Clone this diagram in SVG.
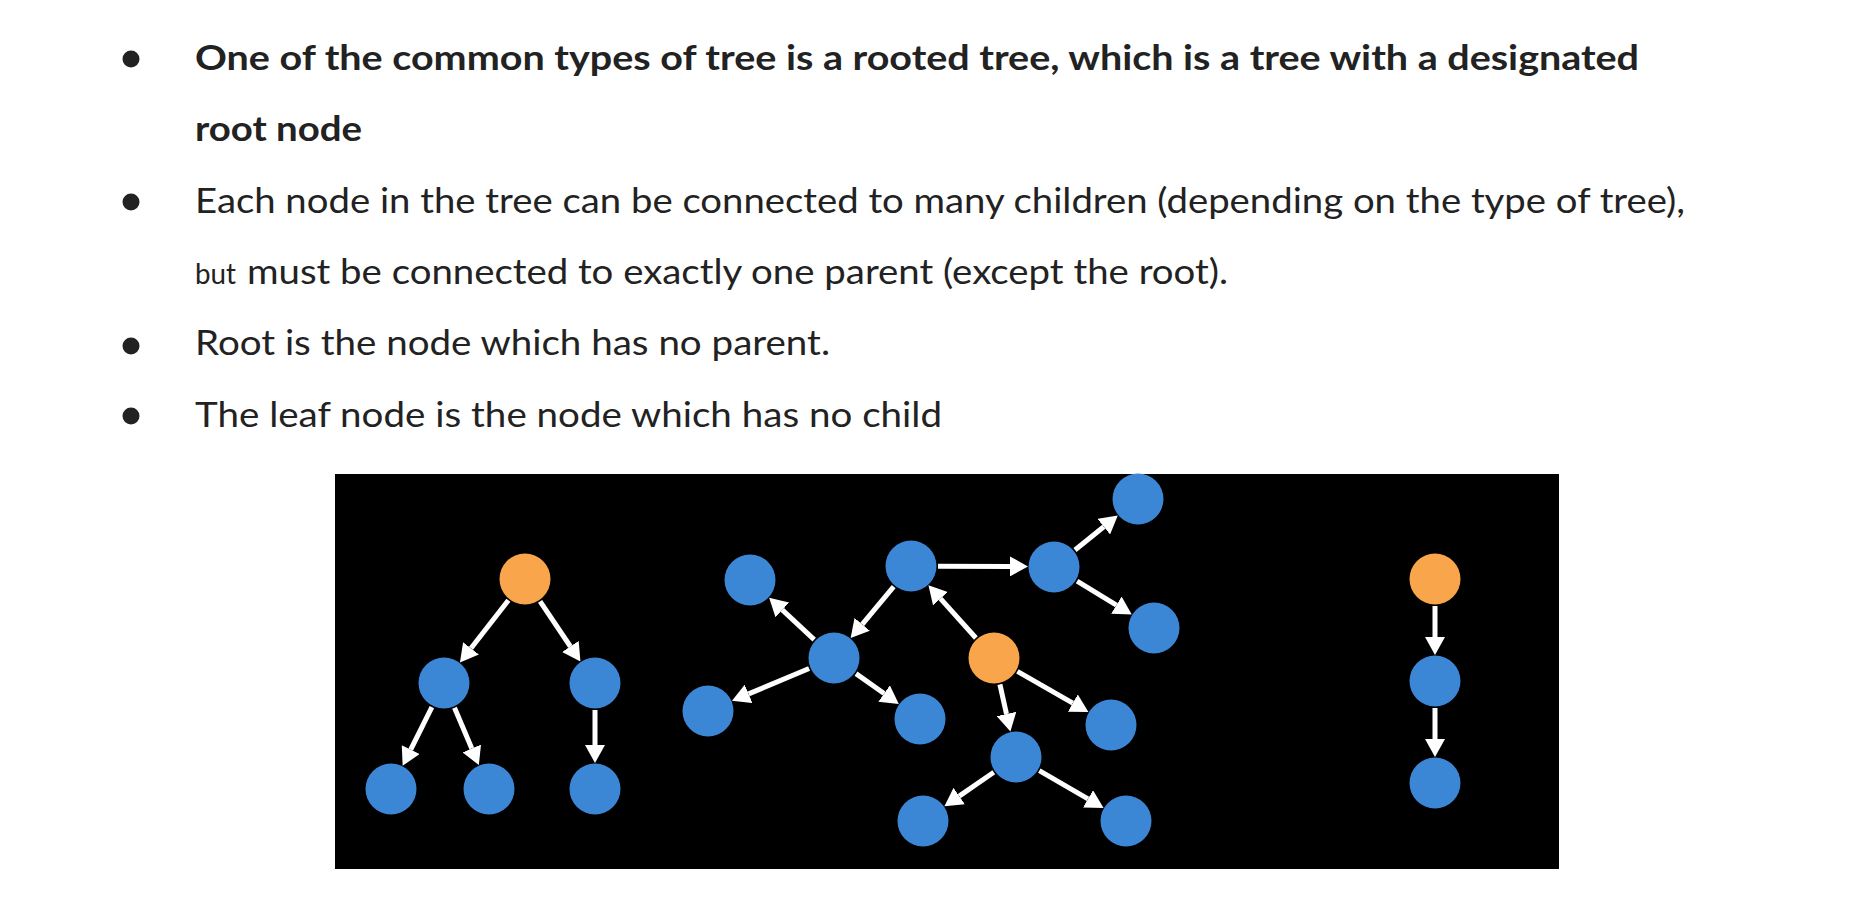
<svg xmlns="http://www.w3.org/2000/svg" width="1852" height="924" viewBox="0 0 1852 924">
<style>
.t{font-family:Lato,"Noto Sans","Liberation Sans",sans-serif;font-size:35px;fill:#222222}
.b{font-weight:bold}
.blue{fill:#3C86D6}
.orange{fill:#F9A54B}
.bul{fill:#222222}
.e{stroke:#FFFFFF;stroke-width:5;fill:none;marker-end:url(#ah)}
</style>
<defs>
<marker id="ah" viewBox="0 0 18 20" markerWidth="18" markerHeight="20" refX="0" refY="10" orient="auto" markerUnits="userSpaceOnUse">
<path d="M0,0 L18,10 L0,20 z" fill="#FFFFFF"/>
</marker>
</defs>
<rect width="1852" height="924" fill="#FFFFFF"/>
<g id="text">
<circle class="bul" cx="131" cy="59" r="8.5"/>
<circle class="bul" cx="131" cy="202" r="8.5"/>
<circle class="bul" cx="131" cy="346" r="8.5"/>
<circle class="bul" cx="131" cy="416" r="8.5"/>
<text class="t b" x="195" y="70" textLength="1444" lengthAdjust="spacingAndGlyphs">One of the common types of tree is a rooted tree, which is a tree with a designated</text>
<text class="t b" x="195" y="141" textLength="167" lengthAdjust="spacingAndGlyphs">root node</text>
<text class="t" x="195" y="212.5" textLength="1490" lengthAdjust="spacingAndGlyphs">Each node in the tree can be connected to many children (depending on the type of tree),</text>
<text class="t" x="195" y="283.5" style="font-size:28px" textLength="41" lengthAdjust="spacingAndGlyphs">but</text>
<text class="t" x="247" y="283.5" textLength="981" lengthAdjust="spacingAndGlyphs">must be connected to exactly one parent (except the root).</text>
<text class="t" x="195" y="355" textLength="635" lengthAdjust="spacingAndGlyphs">Root is the node which has no parent.</text>
<text class="t" x="195" y="426.5" textLength="747" lengthAdjust="spacingAndGlyphs">The leaf node is the node which has no child</text>
</g>
<rect id="panel" x="335" y="474" width="1224" height="395" fill="#000000"/>
<g id="connectors">
<line class="e" x1="508.4" y1="600.3" x2="471.0" y2="648.3"/>
<line class="e" x1="540.1" y1="601.4" x2="570.4" y2="646.5"/>
<line class="e" x1="431.9" y1="707.1" x2="410.7" y2="749.6"/>
<line class="e" x1="454.5" y1="707.8" x2="471.8" y2="748.5"/>
<line class="e" x1="595" y1="710" x2="595" y2="745"/>
<line class="e" x1="975.9" y1="638" x2="940.5" y2="598.7"/>
<line class="e" x1="893.7" y1="586.7" x2="862.2" y2="624.3"/>
<line class="e" x1="938" y1="566.2" x2="1010" y2="566.4"/>
<line class="e" x1="814.2" y1="639.6" x2="782.3" y2="609.9"/>
<line class="e" x1="809.1" y1="668.5" x2="748.6" y2="693.9"/>
<line class="e" x1="856" y1="673.6" x2="884.1" y2="693.5"/>
<line class="e" x1="1075" y1="550" x2="1103.8" y2="526.7"/>
<line class="e" x1="1077.1" y1="581.1" x2="1116.4" y2="605.1"/>
<line class="e" x1="1017.4" y1="671.4" x2="1072.8" y2="703.1"/>
<line class="e" x1="999.9" y1="684.4" x2="1006.5" y2="714"/>
<line class="e" x1="993.8" y1="772.3" x2="959.2" y2="796.1"/>
<line class="e" x1="1039.3" y1="770.6" x2="1088" y2="798.9"/>
<line class="e" x1="1435" y1="606" x2="1435" y2="637"/>
<line class="e" x1="1435" y1="708" x2="1435" y2="739"/>
</g>
<g id="n-L0"><circle class="orange" cx="525" cy="579" r="25.5"/></g>
<g id="n-L1"><circle class="blue" cx="444" cy="683" r="25.5"/></g>
<g id="n-L2"><circle class="blue" cx="595" cy="683" r="25.5"/></g>
<g id="n-L3"><circle class="blue" cx="391" cy="789" r="25.5"/></g>
<g id="n-L4"><circle class="blue" cx="489" cy="789" r="25.5"/></g>
<g id="n-L5"><circle class="blue" cx="595" cy="789" r="25.5"/></g>
<g id="n-MO"><circle class="orange" cx="994" cy="658" r="25.5"/></g>
<g id="n-A"><circle class="blue" cx="911" cy="566" r="25.5"/></g>
<g id="n-B"><circle class="blue" cx="834" cy="658" r="25.5"/></g>
<g id="n-C"><circle class="blue" cx="1054" cy="567" r="25.5"/></g>
<g id="n-TL"><circle class="blue" cx="750" cy="580" r="25.5"/></g>
<g id="n-LL"><circle class="blue" cx="708" cy="711" r="25.5"/></g>
<g id="n-BR"><circle class="blue" cx="920" cy="719" r="25.5"/></g>
<g id="n-TR"><circle class="blue" cx="1138" cy="499" r="25.5"/></g>
<g id="n-CL"><circle class="blue" cx="1154" cy="628" r="25.5"/></g>
<g id="n-OR"><circle class="blue" cx="1111" cy="725" r="25.5"/></g>
<g id="n-D"><circle class="blue" cx="1016" cy="757" r="25.5"/></g>
<g id="n-DL"><circle class="blue" cx="923" cy="821" r="25.5"/></g>
<g id="n-DR"><circle class="blue" cx="1126" cy="821" r="25.5"/></g>
<g id="n-R0"><circle class="orange" cx="1435" cy="579" r="25.5"/></g>
<g id="n-R1"><circle class="blue" cx="1435" cy="681" r="25.5"/></g>
<g id="n-R2"><circle class="blue" cx="1435" cy="783" r="25.5"/></g>
</svg>
